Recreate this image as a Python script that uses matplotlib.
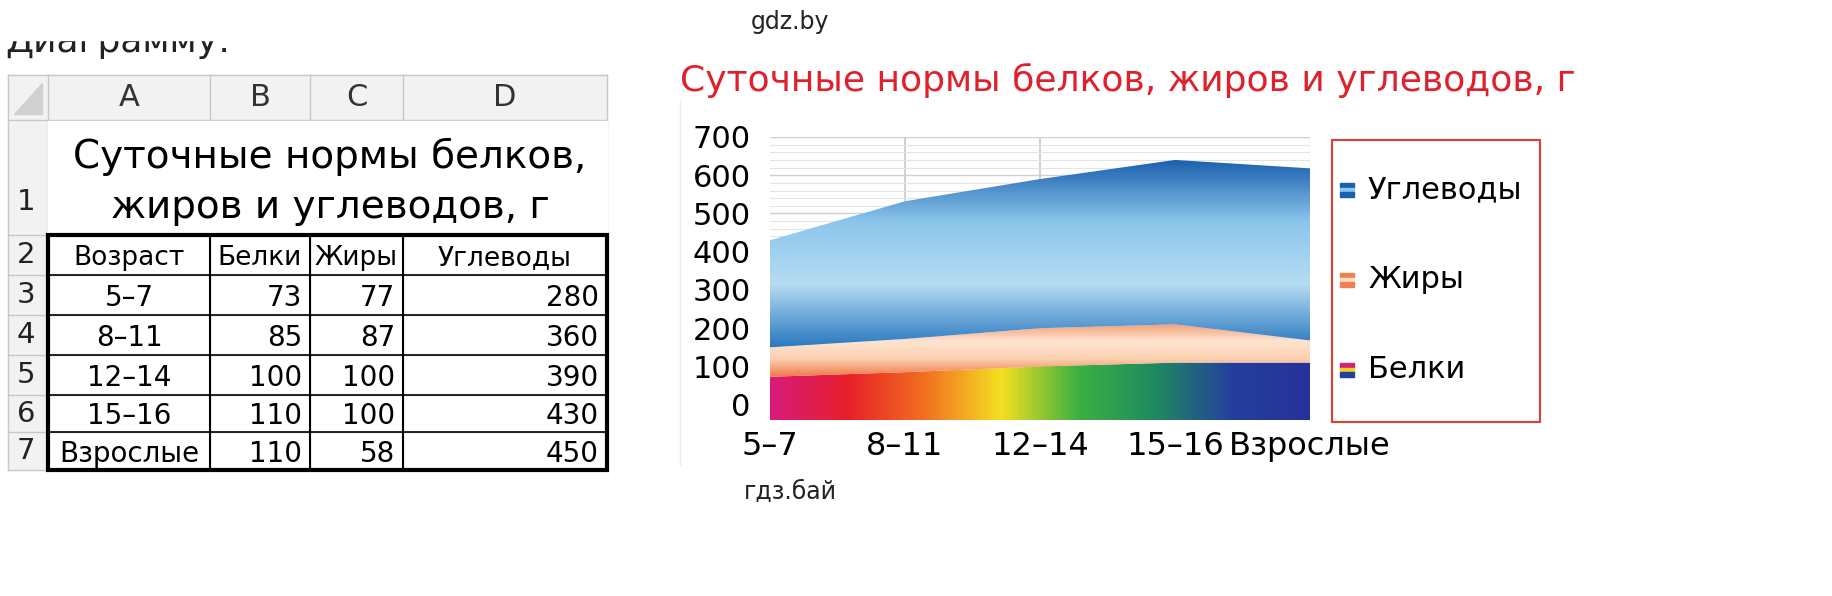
import numpy as np
import matplotlib.pyplot as plt
from matplotlib.colors import LinearSegmentedColormap
from matplotlib.patches import Rectangle

# data
ages = ["5–7", "8–11", "12–14", "15–16", "Взрослые"]
proteins = [73, 85, 100, 110, 110]
fats = [77, 87, 100, 100, 58]
carbs = [280, 360, 390, 430, 450]
col_letters = ["A", "B", "C", "D"]
headers = ["Возраст", "Белки", "Жиры", "Углеводы"]
title_ru = "Суточные нормы белков, жиров и углеводов, г"

W, H = 1832, 596
fig = plt.figure(figsize=(W / 100, H / 100), dpi=100)

# ---------- left: spreadsheet (pixel coords) ----------
tab = fig.add_axes([0, 0, 1, 1])
tab.set_xlim(0, W)
tab.set_ylim(H, 0)
tab.axis("off")

tab.text(5, 42, "Диаграмму:", fontsize=26, color="#222222", va="center", zorder=1)
tab.add_patch(Rectangle((0, 0), 620, 40, color="white", zorder=10))

xs = [8, 48, 210, 310, 403, 607]
ys = [75, 120, 235, 275, 315, 355, 395, 432, 470]
# header shading
tab.add_patch(Rectangle((xs[0], ys[0]), xs[-1] - xs[0], ys[1] - ys[0], color="#f2f2f2", zorder=1))
tab.add_patch(Rectangle((xs[0], ys[0]), xs[1] - xs[0], ys[-1] - ys[0], color="#f2f2f2", zorder=1))
tab.add_patch(plt.Polygon([[42, 83], [42, 114], [14, 114]], color="#d0d0d0", zorder=3))
for x in xs:
    tab.plot([x, x], [ys[0], ys[-1]], color="#c8c8c8", lw=1, zorder=3)
for y in ys:
    tab.plot([xs[0], xs[-1]], [y, y], color="#c8c8c8", lw=1, zorder=3)
tab.add_patch(Rectangle((xs[1], ys[1] + 1), xs[-1] - xs[1], ys[2] - ys[1] - 2, color="white", zorder=4))

for i, c in enumerate(col_letters):
    tab.text((xs[i + 1] + xs[i + 2]) / 2, 98, c, fontsize=22, ha="center", va="center", color="#333333", zorder=5)
for r in range(1, 8):
    yc = (ys[r] + ys[r + 1]) / 2 + (25 if r == 1 else 0)
    tab.text(26, yc, str(r), fontsize=21, ha="center", va="center", color="#222222", zorder=5)

tab.text(330, 157, "Суточные нормы белков,", fontsize=28, ha="center", va="center", zorder=5)
tab.text(330, 207, "жиров и углеводов, г", fontsize=28, ha="center", va="center", zorder=5)

# table body
for i, h in enumerate(headers):
    tab.text((xs[i + 1] + xs[i + 2]) / 2, (ys[2] + ys[3]) / 2 + 3, h, fontsize=19, ha="center", va="center", zorder=5)
for r in range(5):
    yc = (ys[r + 3] + ys[r + 4]) / 2 + 3
    tab.text((xs[1] + xs[2]) / 2, yc, ages[r], fontsize=20, ha="center", va="center", zorder=5)
    for j, v in enumerate([proteins[r], fats[r], carbs[r]]):
        tab.text(xs[j + 3] - 8, yc, str(v), fontsize=20, ha="right", va="center", zorder=5)
for x in xs[1:]:
    tab.plot([x, x], [ys[2], ys[-1]], color="black", lw=1.5, zorder=6)
for y in ys[3:-1]:
    tab.plot([xs[1], xs[-1]], [y, y], color="black", lw=1.2, zorder=6)
tab.add_patch(Rectangle((xs[1], ys[2]), xs[-1] - xs[1], ys[-1] - ys[2], fill=False, ec="black", lw=3, zorder=7))

# watermarks and chart title
tab.text(790, 22, "gdz.by", fontsize=17, ha="center", va="center", color="#222222")
tab.text(790, 492, "гдз.бай", fontsize=17, ha="center", va="center", color="#222222")
tab.text(680, 80, title_ru, fontsize=26, ha="left", va="center", color="#e0202a")
tab.plot([680, 680], [100, 465], color="#eeeeee", lw=1)

# legend box
tab.add_patch(Rectangle((1332, 140), 208, 282, fill=False, ec="#e04030", lw=1.5))
leg = [("Углеводы", ["#1a5fae", "#8cc6ec", "#1a5fae"], 190),
       ("Жиры", ["#f08050", "#fde0c8", "#f08050"], 280),
       ("Белки", ["#d0207a", "#f0d020", "#2040a0"], 370)]
for name, cols, yc in leg:
    for k, cc in enumerate(cols):
        tab.add_patch(Rectangle((1340, yc - 7 + k * 4.7), 14, 4.7, color=cc))
    tab.text(1368, yc, name, fontsize=22, va="center")

# ---------- right: stacked area chart ----------
x0, x1, ytop, ybot = 770, 1310, 137, 420
ax = fig.add_axes([x0 / W, 1 - ybot / H, (x1 - x0) / W, (ybot - ytop) / H])
ax.set_zorder(2)
ax.set_axisbelow(True)
xi = np.arange(len(ages))
p = np.array(proteins)
f = p + np.array(fats)
c = f + np.array(carbs)
ymin = -40
ax.set_xlim(0, len(ages) - 1)
ax.set_ylim(ymin, 700)

ax.set_yticks(range(0, 701, 20), minor=True)
ax.grid(axis="y", which="minor", color="#e4e4e4", lw=0.8, zorder=0)
ax.grid(axis="y", which="major", color="#d0d0d0", lw=1, zorder=0)
for xv in [1, 2]:
    ax.axvline(xv, color="#c8c8c8", lw=1.2, zorder=0)
ax.axvline(len(ages) - 1, color="#d0d0d0", lw=1, zorder=0)

ext = [0, len(ages) - 1, ymin, 700]
cm_carb = LinearSegmentedColormap.from_list("c", ["#2a78c0", "#b6dcf2", "#8cc6ec", "#1a5fae"])
cm_fat = LinearSegmentedColormap.from_list("f", ["#f07a4a", "#fbd0b0", "#fde4d0", "#f4a078"])
cm_prot = LinearSegmentedColormap.from_list(
    "p", ["#d81b7a", "#e8202a", "#f27020", "#f4e020", "#3cb040", "#1f8a60", "#24409c", "#26329a"])

layers = [(ymin, p, cm_prot, "h"), (p, f, cm_fat, "v"), (f, c, cm_carb, "v")]
for lo, hi, cmap, orient in layers:
    poly = ax.fill_between(xi, lo, hi, facecolor="none", lw=0)
    if orient == "h":
        img = np.linspace(0, 1, 300)[None, :]
    else:
        lo_v = min(lo)
        img = np.clip((np.linspace(ymin, 700, 400) - lo_v) / (max(hi) - lo_v), 0, 1)[:, None]
    im = ax.imshow(img, cmap=cmap, extent=ext, aspect="auto", origin="lower", zorder=3)
    im.set_clip_path(poly.get_paths()[0], transform=ax.transData)

ax.set_yticks(range(0, 701, 100))
ax.set_xticks(xi)
ax.set_xticklabels(ages, fontsize=23)
ax.set_yticklabels([str(v) for v in range(0, 701, 100)], fontsize=22)
ax.tick_params(which="both", length=0, pad=8)
ax.tick_params(axis="y", pad=14)
ax.get_xticklabels()[-1].set_x(0)
for s in ax.spines.values():
    s.set_visible(False)

fig.savefig("out.png", dpi=100)
